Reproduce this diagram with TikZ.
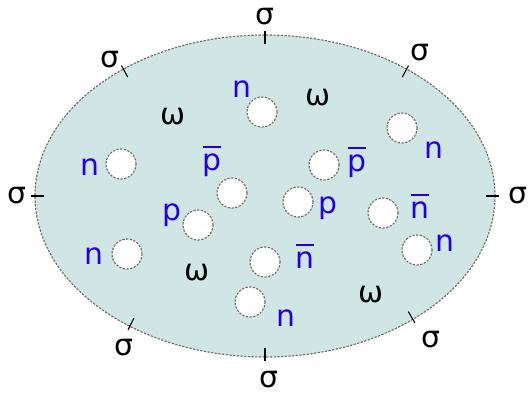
\documentclass[tikz,border=0pt]{standalone}
\usepackage{fontspec}
\setmainfont{DejaVu Sans}
\usetikzlibrary{calc}
\definecolor{nucleus}{HTML}{CFE6E4}
\definecolor{baryon}{HTML}{2400E0}
% bar over a letter (antiparticle)
\newcommand{\anti}[1]{\ooalign{#1\cr\hidewidth\rule[0.76em]{0.58em}{0.065em}\hidewidth\cr}}

\begin{document}
\begin{tikzpicture}[x=0.02cm,y=0.02cm,
    font=\fontsize{17}{20}\selectfont,
    rim/.style={draw=gray!85!black,fill=nucleus,dash pattern=on 1.3pt off 0.8pt,line width=0.65pt},
    hole/.style={draw=gray!85!black,fill=white,dash pattern=on 1.3pt off 0.8pt,line width=0.65pt},
    tickmark/.style={black,line width=0.6pt},
    baryonlbl/.style={text=baryon,inner sep=0pt},
    mesonlbl/.style={text=black,inner sep=0pt}]
    \useasboundingbox (0,0) rectangle (531,393);

    % Kern (Ellipse), Mitte (265,197)
    \coordinate (O) at (265,197);
    \draw[rim] (O) ellipse [x radius=230, y radius=161];

    % Striche am Rand (senkrecht zur Ellipse)
    \foreach \t in {0,52,90,128,180,234,270,310} {
        \pgfmathsetmacro{\px}{265+230*cos(\t)}
        \pgfmathsetmacro{\py}{197+161*sin(\t)}
        \pgfmathsetmacro{\len}{sqrt((1.61*cos(\t))^2+(2.3*sin(\t))^2)}
        \pgfmathsetmacro{\ux}{1.61*cos(\t)/\len}
        \pgfmathsetmacro{\uy}{2.3*sin(\t)/\len}
        \draw[tickmark] (\px+4*\ux,\py+4*\uy) -- (\px-9*\ux,\py-9*\uy);
    }

    % Loecher
    \foreach \x/\y in {262/281,402/265,121/229,232/200,324/228,198/168,
                       298/191,383/180,417/143,127/139,265/131,250/91}
        \draw[hole] (\x,\y) circle (15);

    % Nukleonen
    \node[baryonlbl] (n1) at (242,304) {n};
    \node[baryonlbl] (n2) at (434,243) {n};
    \node[baryonlbl] (n3) at (90,226) {n};
    \node[baryonlbl] (n4) at (445,150) {n};
    \node[baryonlbl] (n5) at (94,137) {n};
    \node[baryonlbl] (n6) at (286,75) {n};
    \node[baryonlbl] (p1) at (172,178) {p};
    \node[baryonlbl] (p2) at (328,185) {p};
    \node[baryonlbl] (pb1) at (212,231) {\anti{p}};
    \node[baryonlbl] (pb2) at (357,230) {\anti{p}};
    \node[baryonlbl] (nb1) at (420,183) {\anti{n}};
    \node[baryonlbl] (nb2) at (305,133) {\anti{n}};

    % Mesonen
    \node[mesonlbl] (w1) at (318,295) {ω};
    \node[mesonlbl] (w2) at (173,276) {ω};
    \node[mesonlbl] (w3) at (197,120) {ω};
    \node[mesonlbl] (w4) at (371,98) {ω};

    \node[mesonlbl] (s1) at (265,376) {σ};
    \node[mesonlbl] (s2) at (110,333) {σ};
    \node[mesonlbl] (s3) at (420,340) {σ};
    \node[mesonlbl] (s4) at (17,197) {σ};
    \node[mesonlbl] (s5) at (518,197) {σ};
    \node[mesonlbl] (s6) at (124,45) {σ};
    \node[mesonlbl] (s7) at (431,53) {σ};
    \node[mesonlbl] (s8) at (269,13) {σ};
\end{tikzpicture}
\end{document}
